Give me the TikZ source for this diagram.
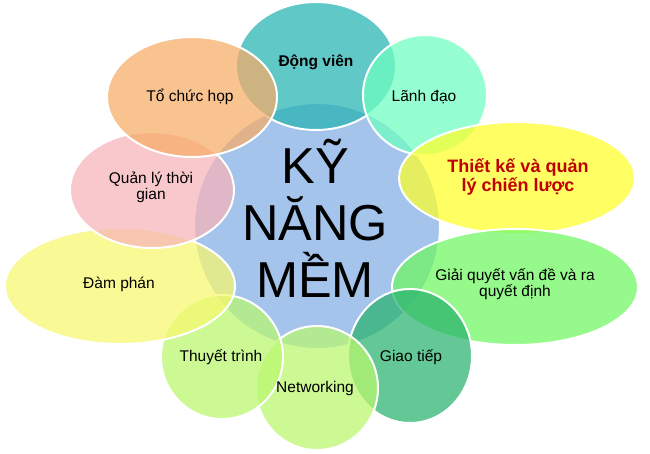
\documentclass[tikz,border=0pt]{standalone}
\usepackage{fontspec}
\setmainfont{Liberation Sans}
\definecolor{cBlue}{RGB}{164,196,236}
\definecolor{cTeal}{RGB}{37,179,179}
\definecolor{cPeach}{RGB}{248,172,102}
\definecolor{cMint}{RGB}{109,255,192}
\definecolor{cYellow}{RGB}{255,255,40}
\definecolor{cPink}{RGB}{248,179,185}
\definecolor{cLYellow}{RGB}{248,248,109}
\definecolor{cGreen}{RGB}{109,248,95}
\definecolor{cYG}{RGB}{186,248,109}
\definecolor{cSea}{RGB}{40,179,109}
\definecolor{cRed}{RGB}{192,0,0}
\tikzset{
  bubble/.style={draw=white, line width=2pt, fill opacity=0.72},
  lbl/.style={font=\fontsize{15.5}{16}\selectfont, align=center, text=black, inner sep=0pt},
  boldlbl/.style={font=\fontsize{15.5}{16}\selectfont\bfseries, align=center, text=black, inner sep=0pt},
  redlbl/.style={font=\fontsize{18}{19}\selectfont\bfseries, align=center, text=cRed, inner sep=0pt},
  bigtext/.style={font=\fontsize{50.5}{57}\selectfont, align=center, text=black, inner sep=0pt}
}
\begin{document}
\begin{tikzpicture}[x=1pt,y=-1pt]
\useasboundingbox[fill=white] (0,0) rectangle (650,454);
% central circle
\path[draw=white, line width=2pt, fill=cBlue] (317,226) circle [radius=123];
% surrounding bubbles
\path[bubble, fill=cTeal] (316,66) ellipse [x radius=80, y radius=64];
\path[bubble, fill=cMint] (425,95) ellipse [x radius=62, y radius=60];
\path[bubble, fill=cYellow] (517,178) ellipse [x radius=118, y radius=56];
\path[bubble, fill=cGreen] (515,287) ellipse [x radius=123, y radius=58];
\path[bubble, fill=cSea] (410,356) ellipse [x radius=62, y radius=67];
\path[bubble, fill=cYG] (317,388) ellipse [x radius=61, y radius=62];
\path[bubble, fill=cYG] (222,357) ellipse [x radius=61, y radius=62];
\path[bubble, fill=cLYellow] (120,286) ellipse [x radius=115, y radius=58];
\path[bubble, fill=cPink] (152,190) ellipse [x radius=82, y radius=58];
\path[bubble, fill=cPeach] (192,97) ellipse [x radius=85, y radius=60];
% labels
\node[bigtext] (kynang) at (315,218) {KỸ\\NĂNG\\MỀM};
\node[boldlbl] (dongvien) at (316,62) {Động viên};
\node[lbl] (lanhdao) at (424,97) {Lãnh đạo};
\node[redlbl] (thietke) at (518,177) {Thiết kế và quản\\lý chiến lược};
\node[lbl] (giaiquyet) at (515,284) {Giải quyết vấn đề và ra\\quyết định};
\node[lbl] (giaotiep) at (411,357) {Giao tiếp};
\node[lbl] (networking) at (315,388) {Networking};
\node[lbl] (thuyettrinh) at (221,357) {Thuyết trình};
\node[lbl] (damphan) at (119,284) {Đàm phán};
\node[lbl] (quanly) at (151,187) {Quản lý thời\\gian};
\node[lbl] (tochuc) at (190,97) {Tổ chức họp};
\end{tikzpicture}
\end{document}
